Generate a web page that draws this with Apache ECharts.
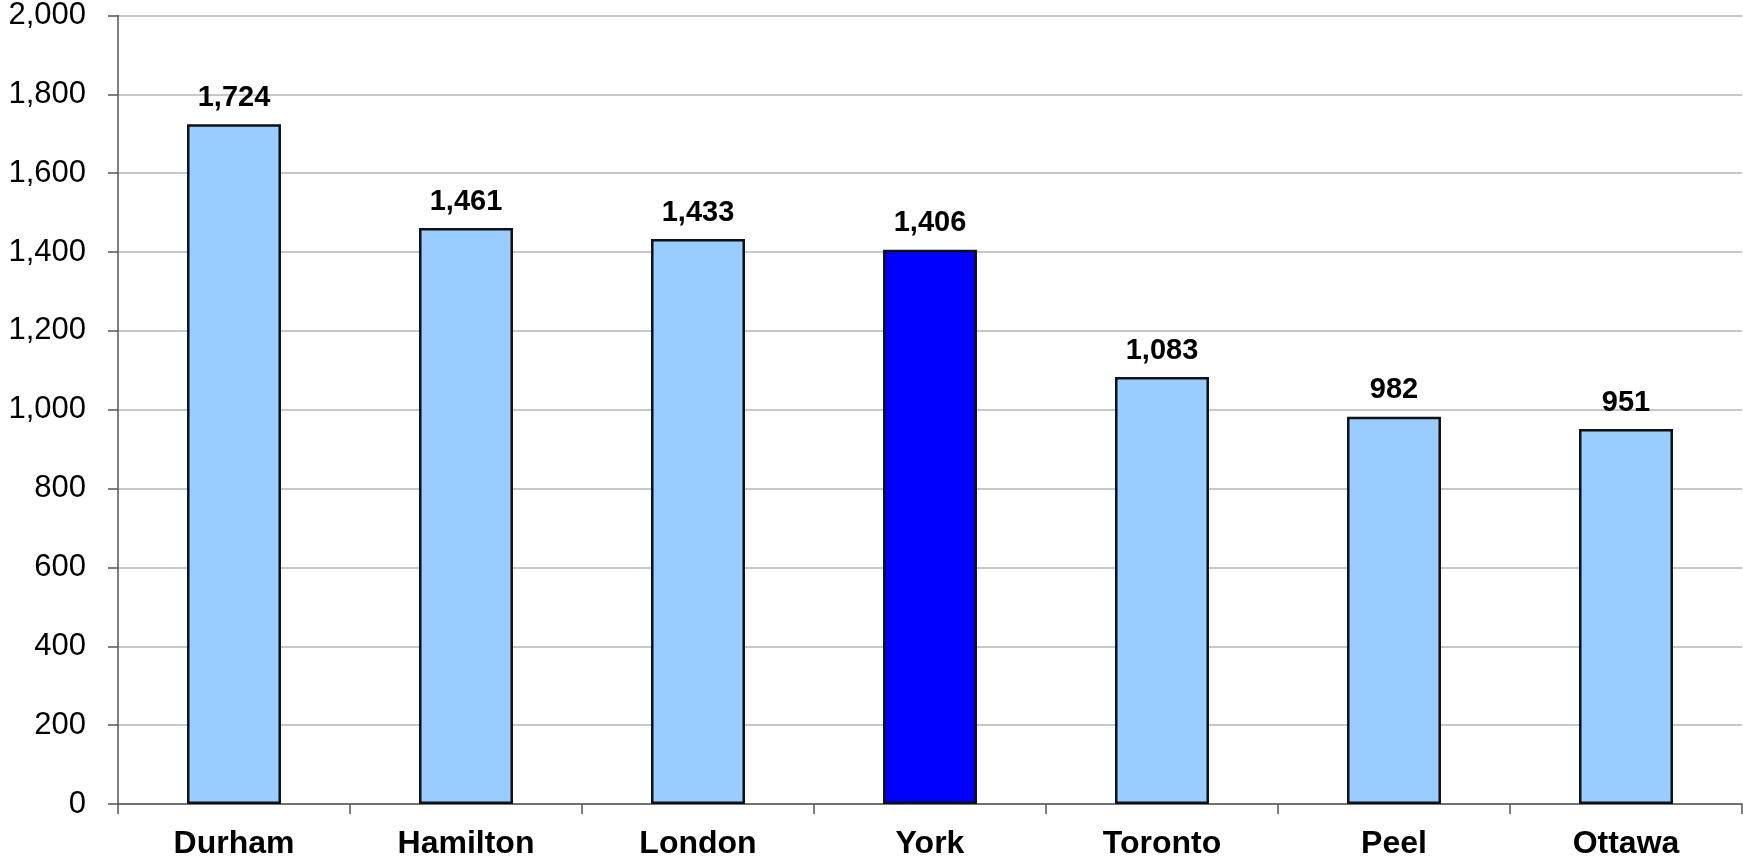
<!DOCTYPE html>
<html>
<head>
<meta charset="utf-8">
<script src="https://cdn.jsdelivr.net/npm/echarts@6/dist/echarts.min.js"></script>
<style>html,body{margin:0;padding:0;background:#fff;}#c{width:1743px;height:860px;}</style>
</head>
<body>
<div id="c"></div>
<script>
const categories = ['Durham', 'Hamilton', 'London', 'York', 'Toronto', 'Peel', 'Ottawa'];
const values = [1724, 1461, 1433, 1406, 1083, 982, 951];
const highlight = 'York';
const chart = echarts.init(document.getElementById('c'));
const font = '"Liberation Sans", Arial, sans-serif';
chart.setOption({
  animation: false,
  grid: { left: 118, right: 1, top: 15, bottom: 56 },
  xAxis: {
    type: 'category',
    data: categories,
    axisLine: { lineStyle: { color: '#555', width: 1.5 } },
    axisTick: { show: true, length: 10, lineStyle: { color: '#555', width: 1.5 } },
    axisLabel: { fontFamily: font, fontSize: 32, fontWeight: 'bold', color: '#000', margin: 24 }
  },
  yAxis: {
    type: 'value',
    min: 0, max: 2000, interval: 200,
    axisLine: { show: true, lineStyle: { color: '#555', width: 1.5 } },
    axisTick: { show: true, length: 10, lineStyle: { color: '#555', width: 1.5 } },
    splitLine: { lineStyle: { color: '#c8c8c8', width: 2 } },
    axisLabel: {
      fontFamily: font, fontSize: 31, color: '#000', margin: 32,
      formatter: v => v.toLocaleString('en-US')
    }
  },
  series: [{
    type: 'bar',
    barWidth: '40.5%',
    data: values.map((v, i) => ({
      value: v,
      itemStyle: { color: categories[i] === highlight ? '#0000ff' : '#99ccff' }
    })),
    itemStyle: { borderColor: '#111', borderWidth: 2.5 },
    label: {
      show: true, position: 'top', distance: 12,
      fontFamily: font, fontSize: 29, fontWeight: 'bold', color: '#000',
      formatter: p => p.value.toLocaleString('en-US')
    }
  }]
});
</script>
</body>
</html>
